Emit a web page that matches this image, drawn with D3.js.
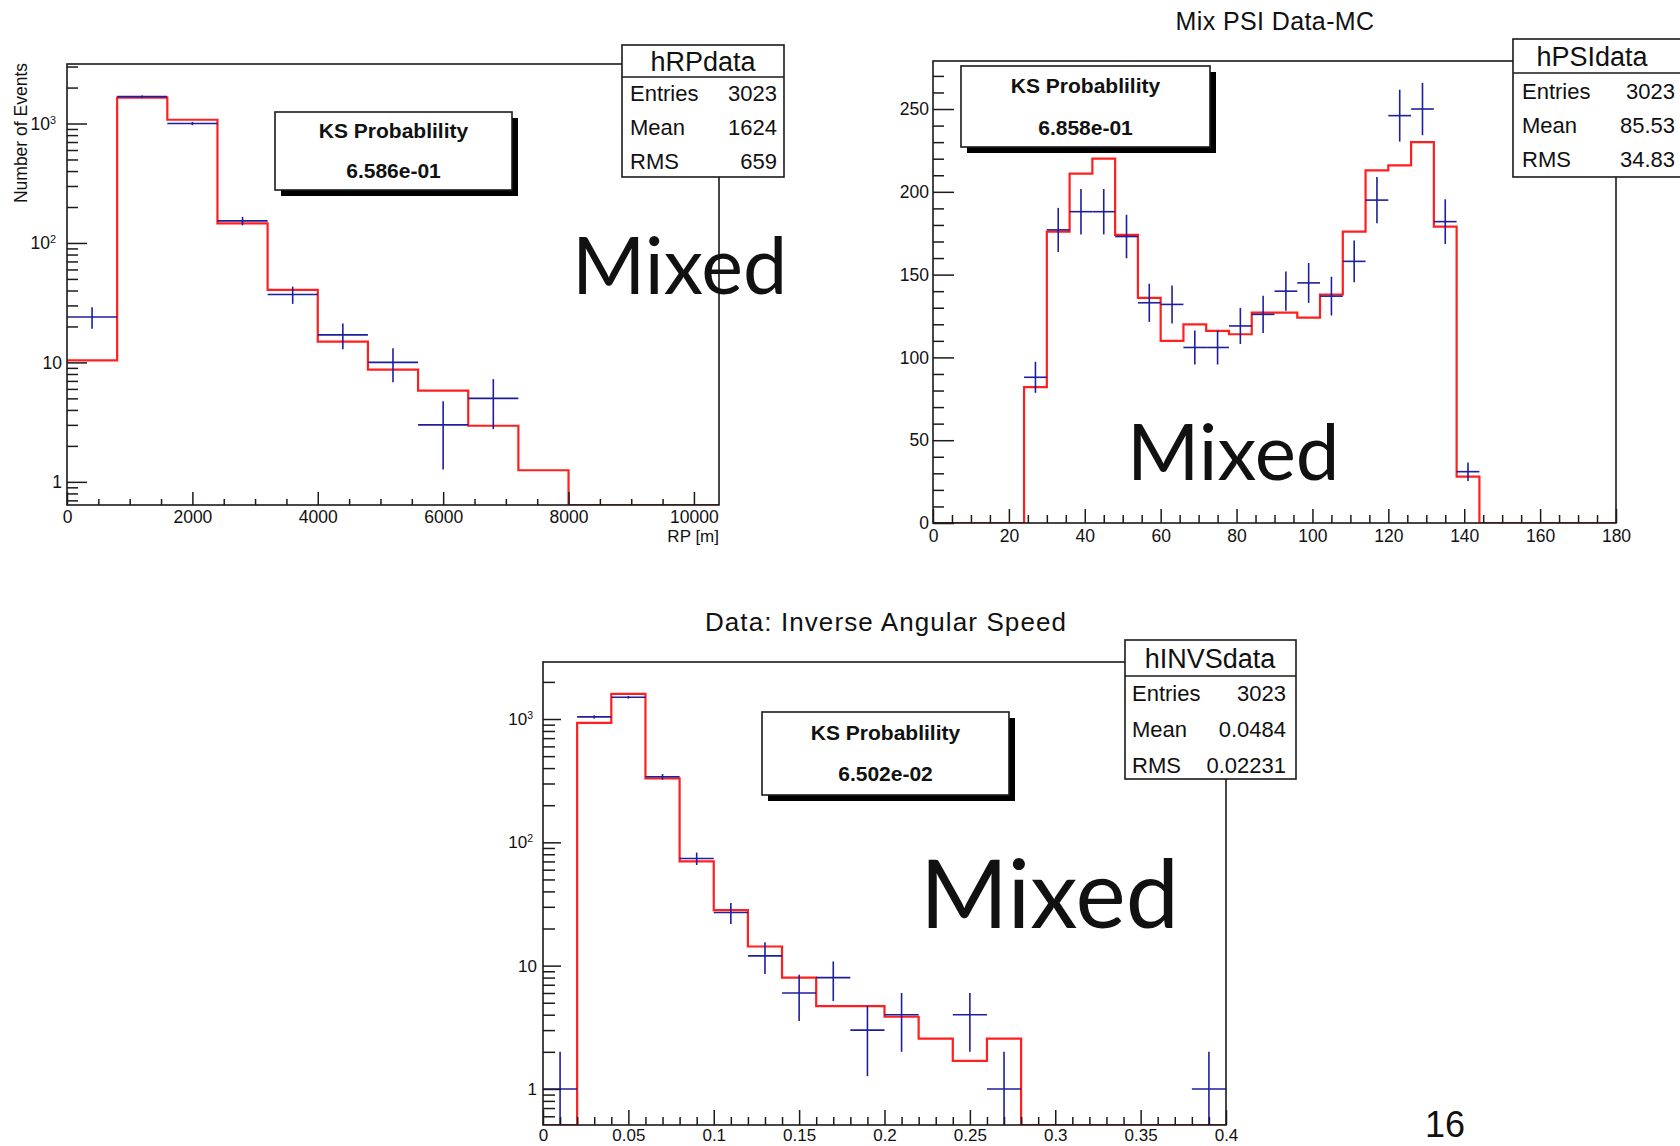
<!DOCTYPE html>
<html><head><meta charset="utf-8">
<script src="https://cdn.jsdelivr.net/npm/d3@7"></script>
<style>
body{margin:0;background:#fff;}
svg{display:block;}
text{font-family:"Liberation Sans",Arial,Helvetica,sans-serif;fill:#111;}
</style></head><body>
<svg id="c" width="1680" height="1146"></svg>
<script>
// ---------------- DATA ----------------
// Panel 1: hRPdata (RP [m]), log y
const rpBinEdges = [0,800,1600,2400,3200,4000,4800,5600,6400,7200,8000,8800,9600,10400];
const rpMC   = [10.4,1650,1075,146,40.5,14.9,8.7,5.8,2.95,1.25,0,0,0];
const rpData = [24,1680,1000,153,37,17,10,3,5,0,0,0,0];
const rpXTicks = [0,2000,4000,6000,8000,10000];
const rpXTickLabels = ["0","2000","4000","6000","8000","10000"];
const rpYTicks = [1,10,100,1000];
const rpYTickLabels = ["1","10","10^2","10^3"];
const rpStatLabels = ["Entries","Mean","RMS"];
const rpStatValues = ["3023","1624","659"];
const rpKS = "6.586e-01";

// Panel 2: hPSIdata, linear y
const psiBinEdges = [0,6,12,18,24,30,36,42,48,54,60,66,72,78,84,90,96,102,108,114,120,126,132,138,144,150,156,162,168,174,180];
const psiMC   = [0,0,0,0,82,176,211,220,174,136,110,120,116,114,127,127,124,138,176,213,216,230,179,28,0,0,0,0,0,0];
const psiData = [0,0,0,0,88,177,188,188,173,133,132,106,106,119,126,140,145,137,158,195,246,250,182,31,0,0,0,0,0,0];
const psiXTicks = [0,20,40,60,80,100,120,140,160,180];
const psiXTickLabels = ["0","20","40","60","80","100","120","140","160","180"];
const psiYTicks = [0,50,100,150,200,250];
const psiYTickLabels = ["0","50","100","150","200","250"];
const psiStatLabels = ["Entries","Mean","RMS"];
const psiStatValues = ["3023","85.53","34.83"];
const psiKS = "6.858e-01";

// Panel 3: hINVSdata, log y
const invsBinEdges = [0,0.02,0.04,0.06,0.08,0.1,0.12,0.14,0.16,0.18,0.2,0.22,0.24,0.26,0.28,0.3,0.32,0.34,0.36,0.38,0.4];
const invsMC   = [0,930,1600,330,70,28.2,14.3,8.0,4.7,4.7,3.85,2.56,1.69,2.56,0,0,0,0,0,0];
const invsData = [1,1040,1500,340,74,27,12,6,8,3,4,0,4,1,0,0,0,0,0,1];
const invsXTicks = [0,0.05,0.1,0.15,0.2,0.25,0.3,0.35,0.4];
const invsXTickLabels = ["0","0.05","0.1","0.15","0.2","0.25","0.3","0.35","0.4"];
const invsYTicks = [1,10,100,1000];
const invsYTickLabels = ["1","10","10^2","10^3"];
const invsStatLabels = ["Entries","Mean","RMS"];
const invsStatValues = ["3023","0.0484","0.02231"];
const invsKS = "6.502e-02";

const ksTitle = "KS Probablility";
const overlayText = "Mixed";
const pageNumber = "16";

// ---------------- DRAW ----------------
const svg = d3.select('#c');
const RED = '#ff1f1f', BLUE = '#1e1ea0', INK = '#1a1a1a';
let clipId = 0;

function logMinor(domain){
  const out=[];
  const lo=Math.floor(Math.log10(domain[0])), hi=Math.ceil(Math.log10(domain[1]));
  for(let e=lo;e<=hi;e++) for(let m=2;m<=9;m++){const v=m*Math.pow(10,e); if(v>=domain[0]&&v<=domain[1]) out.push(v);}
  return out;
}

function panel(o){
  const g = svg.append('g');
  const x = d3.scaleLinear().domain(o.xDomain).range([o.x0,o.x1]);
  const y = (o.log ? d3.scaleLog() : d3.scaleLinear()).domain(o.yDomain).range([o.y1,o.y0]).clamp(true);
  const yv = v => (o.log && v<=0) ? o.y1 : y(v);
  const id = 'clip'+(clipId++);
  svg.append('clipPath').attr('id',id).append('rect')
     .attr('x',o.x0).attr('y',o.y0).attr('width',o.x1-o.x0).attr('height',o.y1-o.y0);

  const plot = g.append('g').attr('clip-path',`url(#${id})`);
  // MC histogram as steps
  const pts = o.mc.map((v,i)=>[o.edges[i],v]);
  pts.push([o.edges[o.edges.length-1], o.mc[o.mc.length-1]]);
  const line = d3.line().x(d=>x(d[0])).y(d=>yv(d[1])).curve(d3.curveStepAfter);
  plot.append('path').attr('d',line(pts)).attr('fill','none').attr('stroke',RED).attr('stroke-width',2.2);

  // data crosses
  const dat = o.data.map((v,i)=>({v,i})).filter(d=>d.v>0);
  const cr = plot.selectAll('g.cr').data(dat).join('g').attr('class','cr');
  cr.append('line')
    .attr('x1',d=>x(o.edges[d.i])).attr('x2',d=>x(o.edges[d.i+1]))
    .attr('y1',d=>yv(d.v)).attr('y2',d=>yv(d.v))
    .attr('stroke',BLUE).attr('stroke-width',1.6);
  cr.append('line')
    .attr('x1',d=>x((o.edges[d.i]+o.edges[d.i+1])/2)).attr('x2',d=>x((o.edges[d.i]+o.edges[d.i+1])/2))
    .attr('y1',d=>yv(d.v-Math.sqrt(d.v))).attr('y2',d=>yv(d.v+Math.sqrt(d.v)))
    .attr('stroke',BLUE).attr('stroke-width',1.6);

  // frame
  g.append('rect').attr('x',o.x0).attr('y',o.y0).attr('width',o.x1-o.x0).attr('height',o.y1-o.y0)
   .attr('fill','none').attr('stroke',INK).attr('stroke-width',1.6);

  // x axis ticks
  const xMinor = d3.range(o.xDomain[0], o.xDomain[1]+1e-9, o.xMinorStep).filter(v=>!o.xTicks.some(t=>Math.abs(t-v)<1e-9));
  const ax1 = g.append('g').attr('transform',`translate(0,${o.y1})`)
    .call(d3.axisBottom(x).tickValues(xMinor).tickSize(-o.xMinLen).tickFormat(''));
  const ax2 = g.append('g').attr('transform',`translate(0,${o.y1})`)
    .call(d3.axisBottom(x).tickValues(o.xTicks).tickSize(-o.xMajLen).tickPadding(o.xPad)
      .tickFormat((d,i)=>o.xLabels[i]));
  // y axis ticks
  const yMinor = o.log ? logMinor(o.yDomain)
     : d3.range(o.yDomain[0], o.yDomain[1]+1e-9, o.yMinorStep).filter(v=>!o.yTicks.includes(v));
  const ay1 = g.append('g').attr('transform',`translate(${o.x0},0)`)
    .call(d3.axisLeft(y).tickValues(yMinor).tickSize(-o.yMinLen).tickFormat(''));
  const ay2 = g.append('g').attr('transform',`translate(${o.x0},0)`)
    .call(d3.axisLeft(y).tickValues(o.yTicks).tickSize(-o.yMajLen).tickPadding(o.yPad)
      .tickFormat((d,i)=>o.yLabels[i]));
  [ax1,ax2,ay1,ay2].forEach(a=>{
    a.select('.domain').remove();
    a.selectAll('line').attr('stroke',INK).attr('stroke-width',1.5);
    a.selectAll('text').attr('font-size',o.tickFont).attr('fill',INK);
  });
  // superscript labels
  ay2.selectAll('text').each(function(){
    const t=d3.select(this); const s=t.text();
    if(s.includes('^')){
      const [b,e]=s.split('^');
      t.text(null);
      t.append('tspan').text(b);
      t.append('tspan').text(e).attr('font-size',o.tickFont*0.62).attr('dy','-0.55em');
      t.attr('x', +t.attr('x') - o.supShift);
    }
  });

  // axis title (x)
  if(o.xTitle){
    g.append('text').attr('x',o.x1).attr('y',o.y1+37).attr('text-anchor','end')
     .attr('font-size',17).text(o.xTitle);
  }
  if(o.yTitle){
    g.append('text').attr('transform',`translate(${o.yTitleX},${o.y0-1}) rotate(-90)`)
     .attr('text-anchor','end').attr('font-size',17.5).attr('dy','0.35em').text(o.yTitle);
  }
  // title
  if(o.title){
    g.append('text').attr('x',o.titleX).attr('y',o.titleY).attr('text-anchor','middle')
     .attr('font-size',o.titleSize).attr('letter-spacing',o.titleLS).text(o.title);
  }

  // KS box with shadow
  const k=o.ks;
  g.append('rect').attr('x',k.x+6).attr('y',k.y+6).attr('width',k.w).attr('height',k.h).attr('fill','#000');
  g.append('rect').attr('x',k.x).attr('y',k.y).attr('width',k.w).attr('height',k.h)
   .attr('fill','#fff').attr('stroke',INK).attr('stroke-width',1.6);
  g.append('text').attr('x',k.x+k.w/2).attr('y',k.l1).attr('text-anchor','middle')
   .attr('font-size',21).attr('font-weight','bold').attr('dy','0.35em').text(ksTitle);
  g.append('text').attr('x',k.x+k.w/2).attr('y',k.l2).attr('text-anchor','middle')
   .attr('font-size',21).attr('font-weight','bold').attr('dy','0.35em').text(o.ksValue);

  // stat box
  const s=o.stat;
  g.append('rect').attr('x',s.x).attr('y',s.y).attr('width',s.w).attr('height',s.h)
   .attr('fill','#fff').attr('stroke',INK).attr('stroke-width',1.6);
  g.append('line').attr('x1',s.x).attr('x2',s.x+s.w).attr('y1',s.sep).attr('y2',s.sep)
   .attr('stroke',INK).attr('stroke-width',1.6);
  g.append('text').attr('x',s.titleX).attr('y',(s.y+s.sep)/2).attr('dy','0.36em')
   .attr('text-anchor','middle').attr('font-size',27).text(s.name);
  g.selectAll('text.sl').data(o.statLabels).join('text').attr('class','sl')
   .attr('x',s.lx).attr('y',(d,i)=>s.rows[i]).attr('dy','0.36em').attr('font-size',22).text(d=>d);
  g.selectAll('text.sv').data(o.statValues).join('text').attr('class','sv')
   .attr('x',s.rx).attr('y',(d,i)=>s.rows[i]).attr('dy','0.36em').attr('text-anchor','end')
   .attr('font-size',22).text(d=>d);

  // overlay "Mixed"
  g.append('text').attr('x',o.mixed.x).attr('y',o.mixed.y).attr('font-size',o.mixed.size)
   .style('font-family','Lato,"Open Sans",sans-serif').attr('fill','#000').text(overlayText);
}

panel({
  x0:67,x1:719,y0:64,y1:505, xDomain:[0,10400], yDomain:[0.64,3150], log:true,
  edges:rpBinEdges, mc:rpMC, data:rpData,
  xTicks:rpXTicks, xLabels:rpXTickLabels, xMinorStep:500, xMajLen:13, xMinLen:6, xPad:6,
  yTicks:rpYTicks, yLabels:rpYTickLabels, yMajLen:20, yMinLen:11, yPad:5, supShift:6,
  tickFont:17.5, xTitle:'RP [m]', yTitle:'Number of Events', yTitleX:21,
  ks:{x:275,y:112,w:237,h:78,l1:131,l2:171}, ksValue:rpKS,
  stat:{x:622,y:45,w:162,h:132,sep:77,name:'hRPdata',titleX:703,lx:630,rx:777,rows:[93,127,161]},
  statLabels:rpStatLabels, statValues:rpStatValues,
  mixed:{x:572,y:294,size:79}
});

panel({
  x0:933,x1:1616,y0:61,y1:523, xDomain:[0,180], yDomain:[0,279], log:false,
  edges:psiBinEdges, mc:psiMC, data:psiData,
  xTicks:psiXTicks, xLabels:psiXTickLabels, xMinorStep:5, xMajLen:14, xMinLen:8, xPad:7,
  yTicks:psiYTicks, yLabels:psiYTickLabels, yMinorStep:10, yMajLen:21, yMinLen:11, yPad:4, supShift:0,
  tickFont:17.5, title:'Mix PSI Data-MC', titleX:1275, titleY:30, titleSize:25, titleLS:0.4,
  ks:{x:961,y:66,w:249,h:81,l1:86,l2:128}, ksValue:psiKS,
  stat:{x:1513,y:39,w:180,h:138,sep:73,name:'hPSIdata',titleX:1592,lx:1522,rx:1675,rows:[91,125,159]},
  statLabels:psiStatLabels, statValues:psiStatValues,
  mixed:{x:1127,y:480,size:78}
});

panel({
  x0:543,x1:1226,y0:662,y1:1125, xDomain:[0,0.4], yDomain:[0.51,2900], log:true,
  edges:invsBinEdges, mc:invsMC, data:invsData,
  xTicks:invsXTicks, xLabels:invsXTickLabels, xMinorStep:0.01, xMajLen:15, xMinLen:8, xPad:4,
  yTicks:invsYTicks, yLabels:invsYTickLabels, yMajLen:18, yMinLen:12, yPad:6, supShift:4,
  tickFont:17, title:'Data: Inverse Angular Speed', titleX:886, titleY:631, titleSize:26, titleLS:1.1,
  ks:{x:762,y:712,w:247,h:83,l1:733,l2:774}, ksValue:invsKS,
  stat:{x:1125,y:640,w:171,h:139,sep:676,name:'hINVSdata',titleX:1210,lx:1132,rx:1286,rows:[693,729,765]},
  statLabels:invsStatLabels, statValues:invsStatValues,
  mixed:{x:920,y:928,size:95}
});

svg.append('text').attr('x',1425).attr('y',1137).attr('font-size',36).attr('fill','#000').text(pageNumber);
</script>
</body></html>
